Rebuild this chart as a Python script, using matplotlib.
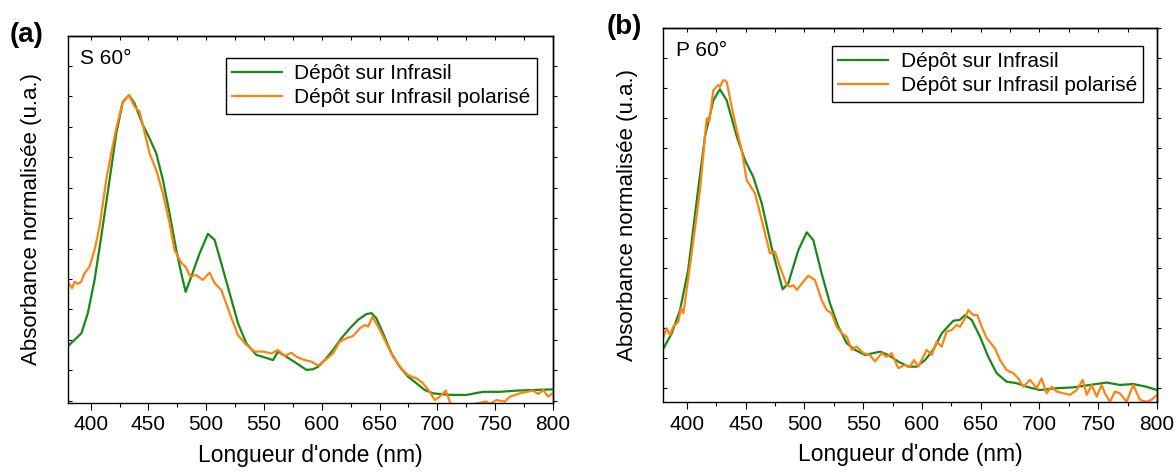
import numpy as np
import matplotlib
matplotlib.use('Agg')
import matplotlib.pyplot as plt
from matplotlib.ticker import MultipleLocator, NullFormatter

plt.rcParams['font.family'] = ['Liberation Sans', 'DejaVu Sans']

# Panel (a) - S 60 deg
a_green_x = [380, 386, 392, 397.6, 403.4, 409.2, 416.4, 422.2, 427.9, 433.1, 438, 445.2, 451, 456.8,
             462.5, 468.3, 474.1, 478.4, 482.2, 487.1, 494.3, 501.5, 507.3, 513.1, 520.3, 527.5,
             534.7, 543.4, 550.6, 557.8, 562.1, 569.4, 578, 586.7, 592.4, 596.7, 602.5, 609.7,
             617, 624.2, 631.4, 638.6, 643, 647.3, 653, 660.3, 667.4, 674.6, 681.9, 689.1, 696.3,
             710.7, 725.2, 739.6, 754, 768.5, 782.9, 800]
a_green_y = [0.178, 0.2, 0.222, 0.288, 0.397, 0.539, 0.725, 0.878, 0.981, 1.003, 0.976, 0.905, 0.861,
             0.812, 0.725, 0.615, 0.495, 0.419, 0.358, 0.408, 0.484, 0.548, 0.528, 0.451, 0.353,
             0.255, 0.189, 0.151, 0.143, 0.134, 0.162, 0.145, 0.124, 0.102, 0.104, 0.112, 0.134,
             0.167, 0.206, 0.238, 0.266, 0.285, 0.288, 0.271, 0.222, 0.156, 0.112, 0.08, 0.058,
             0.036, 0.025, 0.02, 0.02, 0.03, 0.03, 0.034, 0.036, 0.038]

a_orange_x = [380, 384, 386, 389, 391.9, 394.7, 399, 403.4, 407.7, 413.5, 417.8, 422.2, 427.4, 433.1,
              438, 442.3, 445.2, 451, 456.8, 462.5, 468.3, 472.6, 478.4, 482.2, 486.2, 491.4,
              497.1, 502.9, 507.3, 513.1, 520.3, 527.5, 534.7, 541.9, 549.1, 556.4, 562.1, 567.9,
              573.7, 578, 585.2, 591, 596.7, 604, 609.7, 615.5, 621.3, 627.1, 632.9, 637.2, 640.1,
              643.9, 648.7, 654.5, 661.7, 668.9, 674.6, 681.9, 687.6, 693.4, 697.7, 702.1, 707.3,
              711.3, 719.4, 730.9, 742.5, 745.3, 751.1, 758.4, 762.7, 771.3, 777.1, 782.9, 787.3,
              791.6, 795.9, 800]
a_orange_y = [0.391, 0.37, 0.391, 0.384, 0.391, 0.419, 0.44, 0.495, 0.571, 0.725, 0.812, 0.894, 0.976,
              1.003, 0.965, 0.949, 0.905, 0.812, 0.757, 0.681, 0.583, 0.495, 0.453, 0.44, 0.408,
              0.413, 0.397, 0.421, 0.386, 0.364, 0.288, 0.216, 0.184, 0.162, 0.162, 0.156, 0.167,
              0.148, 0.158, 0.145, 0.134, 0.129, 0.116, 0.137, 0.156, 0.194, 0.206, 0.213, 0.238,
              0.249, 0.244, 0.276, 0.244, 0.2, 0.145, 0.107, 0.085, 0.074, 0.058, 0.03, 0.003,
              0.014, 0.034, -0.008, -0.019, -0.01, -0.002, -0.01, 0.003, -0.002, 0.014, 0.025,
              0.03, 0.034, 0.023, 0.036, 0.014, 0.027]

# Panel (b) - P 60 deg
b_green_x = [380, 387, 394, 401, 408, 415.3, 422.4, 428, 433.8, 442.3, 449.4, 456.4, 463.6, 472,
             481.4, 486.2, 494.7, 501.9, 507.5, 514.6, 521.7, 528.8, 536, 543, 551.5, 564.3,
             571.3, 579.8, 588.3, 595.5, 602.6, 609.6, 616.8, 626.6, 632.3, 636.6, 642.3, 649.4,
             656.4, 663.6, 672, 680.6, 689.1, 700.4, 714.6, 728.8, 743, 757.1, 768.5, 779.8,
             791.1, 800]
b_green_y = [0.133, 0.183, 0.26, 0.394, 0.617, 0.84, 0.96, 0.997, 0.96, 0.84, 0.76, 0.705, 0.617,
             0.47, 0.33, 0.35, 0.46, 0.52, 0.494, 0.383, 0.283, 0.205, 0.15, 0.128, 0.111, 0.122,
             0.111, 0.089, 0.072, 0.072, 0.094, 0.128, 0.183, 0.225, 0.228, 0.244, 0.228, 0.172,
             0.105, 0.05, 0.022, 0.017, 0.005, -0.006, 0.0, 0.003, 0.011, 0.019, 0.011, 0.014,
             0.005, -0.006]

b_orange_x = [380, 382.7, 385.5, 388.3, 392.6, 394.9, 396.9, 404, 411, 416.8, 419, 422.4, 426.6, 428,
              430.9, 433.8, 438, 442.3, 446.6, 450.8, 457.9, 463.6, 470.6, 474.9, 479.1, 484.9,
              487.7, 490.5, 493.4, 499, 503.2, 508.9, 514.6, 518.9, 523.1, 527.4, 531.7, 536,
              540.2, 544.4, 550.1, 555.7, 560, 565.7, 569.9, 574.2, 579.8, 585.5, 589.8, 593.2,
              596.9, 604, 608.3, 612.5, 616.8, 621, 625.3, 629.6, 632.3, 636.6, 639.4, 643.7,
              647.1, 650.8, 655.1, 662.1, 666.4, 672, 677.7, 682, 686.2, 691.9, 697.6, 701.8,
              706.1, 710.3, 714.6, 720.3, 726, 731.7, 736.8, 740.2, 744.4, 748.7, 752.9, 755.7,
              760, 764.3, 768.5, 774.2, 779.8, 785.5, 791.1, 795.4, 800]
b_orange_y = [0.172, 0.2, 0.178, 0.205, 0.222, 0.267, 0.25, 0.45, 0.66, 0.9, 0.889, 0.994, 1.011,
              1.005, 1.028, 1.022, 0.939, 0.861, 0.794, 0.694, 0.65, 0.561, 0.45, 0.455, 0.405,
              0.344, 0.339, 0.344, 0.328, 0.355, 0.375, 0.361, 0.294, 0.261, 0.25, 0.205, 0.183,
              0.172, 0.128, 0.139, 0.117, 0.111, 0.089, 0.117, 0.105, 0.117, 0.067, 0.078, 0.072,
              0.094, 0.072, 0.128, 0.111, 0.155, 0.139, 0.189, 0.194, 0.211, 0.205, 0.233, 0.261,
              0.244, 0.244, 0.205, 0.167, 0.133, 0.094, 0.061, 0.05, 0.033, 0.005, 0.028, 0.0,
              0.033, -0.017, 0.005, -0.011, -0.017, -0.022, -0.006, 0.028, -0.022, 0.011, -0.028,
              0.011, -0.017, -0.045, -0.011, -0.017, -0.045, 0.011, -0.039, -0.045, -0.039, -0.022]

labels = ['Dépôt sur Infrasil', 'Dépôt sur Infrasil polarisé']
green = '#168a16'
orange = '#ff8312'


def style_axes(ax, ylim, legend_anchor, tag):
    ax.set_xlim(380, 800)
    ax.set_ylim(*ylim)
    ax.xaxis.set_major_locator(MultipleLocator(50))
    ax.xaxis.set_minor_locator(MultipleLocator(25))
    ax.yaxis.set_major_locator(MultipleLocator(0.1))
    ax.yaxis.set_major_formatter(NullFormatter())
    ax.tick_params(axis='x', which='major', direction='out', length=5, width=0.8,
                   labelsize=15, pad=4)
    ax.tick_params(axis='x', which='minor', direction='out', length=3, width=0.8)
    ax.tick_params(axis='y', which='major', direction='in', length=3, width=0.8)
    top = ax.secondary_xaxis('top')
    top.xaxis.set_major_locator(MultipleLocator(25))
    top.tick_params(direction='in', length=3, width=0.8, labeltop=False)
    right = ax.secondary_yaxis('right')
    right.yaxis.set_major_locator(MultipleLocator(0.1))
    right.tick_params(direction='out', length=3, width=0.8, labelright=False)
    for s in list(ax.spines.values()) + [top.spines['top'], right.spines['right']]:
        s.set_linewidth(1.0)
    ax.set_xlabel("Longueur d'onde (nm)", fontsize=16.5, labelpad=7)
    ax.set_ylabel('Absorbance normalisée (u.a.)', fontsize=16, labelpad=15)
    leg = ax.legend(loc='upper right', bbox_to_anchor=legend_anchor, fontsize=15,
                    frameon=True, fancybox=False, edgecolor='black', framealpha=1,
                    handlelength=2.4, handletextpad=0.6, borderpad=0.3,
                    labelspacing=0.25, borderaxespad=0)
    leg.get_frame().set_linewidth(1.0)
    ax.text(0.025, 0.965, tag, transform=ax.transAxes, fontsize=15, va='top', ha='left')


fig = plt.figure(figsize=(11.76, 4.73), dpi=100)
ax1 = fig.add_axes([0.0574, 0.148, 0.4128, 0.776])
ax2 = fig.add_axes([0.5642, 0.150, 0.4196, 0.790])

ax1.plot(a_green_x, a_green_y, color=green, lw=1.6, label=labels[0])
ax1.plot(a_orange_x, a_orange_y, color=orange, lw=1.6, label=labels[1])
style_axes(ax1, (-0.0066, 1.197), (0.967, 0.94), 'S 60°')

ax2.plot(b_green_x, b_green_y, color=green, lw=1.6, label=labels[0])
ax2.plot(b_orange_x, b_orange_y, color=orange, lw=1.6, label=labels[1])
style_axes(ax2, (-0.046, 1.2), (0.972, 0.953), 'P 60°')

fig.text(0.008, 0.926, '(a)', fontsize=20, fontweight='bold', va='center', ha='left')
fig.text(0.516, 0.943, '(b)', fontsize=20, fontweight='bold', va='center', ha='left')

fig.savefig('out.png', dpi=100)
